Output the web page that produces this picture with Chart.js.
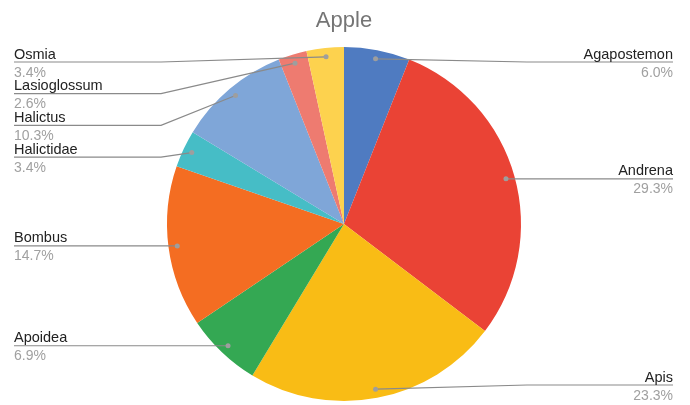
<!DOCTYPE html>
<html>
<head>
<meta charset="utf-8">
<script src="https://cdn.jsdelivr.net/npm/chart.js@4/dist/chart.umd.min.js"></script>
<style>
  html, body { margin: 0; padding: 0; background: #ffffff; }
  #wrap { width: 690px; height: 405px; }
</style>
</head>
<body>
<div id="wrap"><canvas id="c" width="690" height="405"></canvas></div>
<script>
const chartTitle = 'Apple';
const categories = ['Agapostemon', 'Andrena', 'Apis', 'Apoidea', 'Bombus', 'Halictidae', 'Halictus', 'Lasioglossum', 'Osmia'];
const values = [6.0, 29.3, 23.3, 6.9, 14.7, 3.4, 10.3, 2.6, 3.4];
const colors = ['#4f7bc1', '#ea4335', '#f9bc15', '#34a853', '#f46d22', '#46bdc6', '#7fa6d8', '#ee7b70', '#fdd24e'];

const FONT = '"Liberation Sans", Arial, sans-serif';

const sideLabels = {
  id: 'sideLabels',
  afterDatasetsDraw(chart) {
    const ctx = chart.ctx;
    const meta = chart.getDatasetMeta(0);
    const total = values.reduce((a, b) => a + b, 0);
    const W = chart.width;
    const leftX = 14, rightX = W - 17;
    const topY = 62, botY = 385, gap = 31.7;
    const items = meta.data.map((arc, i) => {
      const p = arc.getProps(['x', 'y', 'startAngle', 'endAngle', 'outerRadius'], true);
      const mid = (p.startAngle + p.endAngle) / 2;
      const r = p.outerRadius * 0.95;
      return {
        i, cx: p.x, cy: p.y, R: p.outerRadius,
        dx: p.x + Math.cos(mid) * r,
        dy: p.y + Math.sin(mid) * r,
        side: Math.cos(mid) >= 0 ? 'right' : 'left'
      };
    });
    ['left', 'right'].forEach(side => {
      const group = items.filter(it => it.side === side).sort((a, b) => a.dy - b.dy);
      let prev = -Infinity;
      group.forEach(it => {
        let y = Math.max(it.dy, topY, prev + gap);
        it.ly = y; prev = y;
      });
      let next = Infinity;
      for (let k = group.length - 1; k >= 0; k--) {
        const it = group[k];
        it.ly = Math.min(it.ly, botY, next - gap);
        next = it.ly;
      }
    });
    ctx.save();
    items.forEach(it => {
      const elbowX = it.side === 'left' ? it.cx - it.R - 6 : it.cx + it.R + 6;
      const edgeX = it.side === 'left' ? leftX : rightX;
      ctx.strokeStyle = '#8a8a8a';
      ctx.lineWidth = 1.2;
      ctx.beginPath();
      ctx.moveTo(edgeX, it.ly);
      ctx.lineTo(elbowX, it.ly);
      ctx.lineTo(it.dx, it.dy);
      ctx.stroke();
      ctx.fillStyle = '#9e9e9e';
      ctx.beginPath();
      ctx.arc(it.dx, it.dy, 2.5, 0, Math.PI * 2);
      ctx.fill();
      ctx.textAlign = it.side === 'left' ? 'left' : 'right';
      ctx.textBaseline = 'alphabetic';
      ctx.font = '14.5px ' + FONT;
      ctx.fillStyle = '#222222';
      ctx.fillText(categories[it.i], edgeX, it.ly - 3.5);
      ctx.font = '14px ' + FONT;
      ctx.fillStyle = '#a0a0a0';
      ctx.fillText((values[it.i] / total * 100).toFixed(1) + '%', edgeX, it.ly + 14.5);
    });
    ctx.textAlign = 'center';
    ctx.font = '22px ' + FONT;
    ctx.fillStyle = '#757575';
    ctx.fillText(chartTitle, 344, 27);
    ctx.restore();
  }
};

new Chart(document.getElementById('c'), {
  type: 'pie',
  data: {
    labels: categories,
    datasets: [{
      data: values,
      backgroundColor: colors,
      borderWidth: 0
    }]
  },
  options: {
    responsive: false,
    animation: false,
    layout: { padding: { top: 47, bottom: 4, left: 167, right: 169 } },
    plugins: {
      legend: { display: false },
      tooltip: { enabled: false },
      title: { display: false }
    }
  },
  plugins: [sideLabels]
});
</script>
</body>
</html>
